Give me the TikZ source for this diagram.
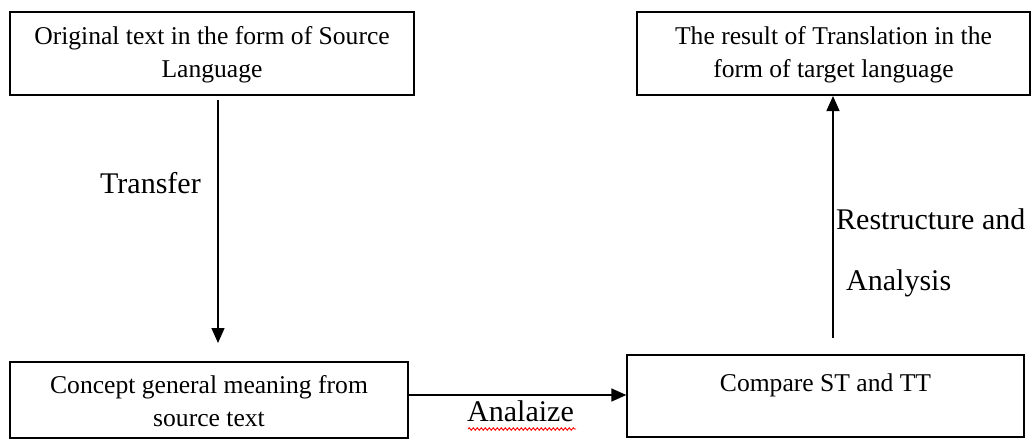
\documentclass[tikz,border=0pt]{standalone}
\usepackage{fontspec}
\setmainfont{Liberation Serif}
\usetikzlibrary{arrows.meta,decorations.pathmorphing}
\begin{document}
\begin{tikzpicture}[x=1pt,y=-1pt,
  box/.style={draw,line width=1.3pt,inner sep=0pt},
  boxtext/.style={font=\fontsize{25.6}{33}\selectfont,align=center},
  lbl/.style={font=\fontsize{30}{36}\selectfont,inner sep=0pt},
  conn/.style={line width=1.4pt,-{Triangle[length=15pt,width=13pt]}}]
\useasboundingbox (0,0) rectangle (1032,440);
% boxes
\node[box,minimum width=404pt,minimum height=83pt] (src) at (212,53.5) {};
\node[boxtext] at (212,54.5) {Original text in the form of Source\\Language};
\node[box,minimum width=393pt,minimum height=83pt] (res) at (833.5,53.5) {};
\node[boxtext] at (833.5,54.5) {The result of Translation in the\\form of target language};
\node[box,minimum width=398pt,minimum height=76pt] (con) at (209,400) {};
\node[boxtext] at (209,401) {Concept general meaning from\\source text};
\node[box,minimum width=397pt,minimum height=82pt] (cmp) at (825.5,396) {};
\node[boxtext,anchor=base] at (825.5,391) {Compare ST and TT};
% connectors
\coordinate (a1s) at (218,100);
\coordinate (a1e) at (218,343);
\draw[conn] (a1s) -- (a1e);
\coordinate (a3s) at (833,338);
\draw[conn] (a3s) -- (833,96);
\draw[conn] (con.east |- 0,395) -- (cmp.west |- 0,395);
% labels
\node[lbl,anchor=base west] (t1) at (100,193) {Transfer};
\node[lbl,anchor=base west] (t2) at (836,229) {Restructure and};
\node[lbl,anchor=base west] (t3) at (846,290) {Analysis};
\node[lbl,anchor=base west] (t4) at (467,421) {Analaize};
\draw[red,line width=0.9pt,decorate,decoration={snake,amplitude=1.2pt,segment length=4pt}] (468,429) -- (576,429);
\end{tikzpicture}
\end{document}
